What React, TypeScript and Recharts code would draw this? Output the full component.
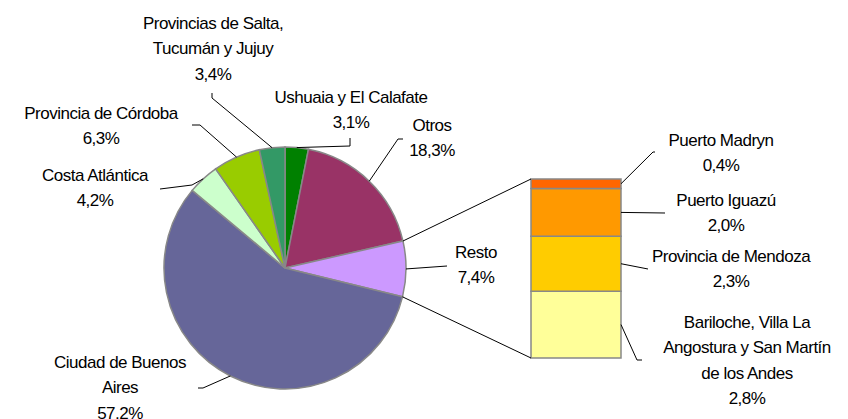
import { PieChart, Pie, Cell, BarChart, Bar, XAxis, YAxis } from 'recharts'

// main pie, clockwise from 12 o'clock
const PIE_NAMES = [
  'Ushuaia y El Calafate',
  'Otros',
  'Resto',
  'Ciudad de Buenos\nAires',
  'Costa Atlántica',
  'Provincia de Córdoba',
  'Provincias de Salta,\nTucumán y Jujuy',
]
const PIE_VALUES = [3.1, 18.3, 7.4, 57.2, 4.2, 6.3, 3.4]
const PIE_COLORS = ['#008000', '#993366', '#CC99FF', '#666699', '#CCFFCC', '#99CC00', '#339966']

// breakdown of "Resto", bottom to top
const BAR_NAMES = [
  'Bariloche, Villa La\nAngostura y San Martín\nde los Andes',
  'Provincia de Mendoza',
  'Puerto Iguazú',
  'Puerto Madryn',
]
const BAR_VALUES = [2.8, 2.3, 2.0, 0.4]
const BAR_COLORS = ['#FFFF99', '#FFCC00', '#FF9900', '#FF6600']

const RESTO = 2
const W = 848
const H = 419
const PIE_CX = 285
const PIE_CY = 268
const PIE_R = 121
const FONT = { fontFamily: '"Liberation Sans", Arial, sans-serif', fontSize: 17, letterSpacing: -0.5 }
const LINE_H = 25.5
const EDGE = '#888888'

// label placement (first line centre + leader elbow/end)
const PIE_LABELS: Record<number, { x: number; y: number; pts: [number, number][] }> = {
  0: { x: 351, y: 97, pts: [[350, 146], [350, 138]] },
  1: { x: 432, y: 125, pts: [[398, 139], [403, 139]] },
  2: { x: 476, y: 252, pts: [[447, 266]] },
  3: { x: 120, y: 362, pts: [[203, 388], [198, 388]] },
  4: { x: 95, y: 175, pts: [[192, 185], [160, 189]] },
  5: { x: 101, y: 113, pts: [[200, 125], [192, 125]] },
  6: { x: 213, y: 23, pts: [[212, 98], [212, 93]] },
}
const BAR_LABELS: Record<number, { x: number; y: number; pts: [number, number][] }> = {
  0: { x: 747, y: 322, pts: [[637, 360], [642, 360]] },
  1: { x: 731, y: 256, pts: [[648, 269]] },
  2: { x: 726, y: 200, pts: [[665, 213]] },
  3: { x: 721, y: 140, pts: [[653, 152], [655, 152]] },
}

const fmt = (v: number) => v.toFixed(1).replace('.', ',') + '%'

function LabelText({ x, y, lines }: { x: number; y: number; lines: string[] }) {
  return (
    <text x={x} y={y} textAnchor="middle" fill="#000" style={FONT}>
      {lines.map((l, i) => (
        <tspan key={i} x={x} y={y + i * LINE_H} dominantBaseline="central">{l}</tspan>
      ))}
    </text>
  )
}

function pieEdge(frac: number) {
  const a = frac * 2 * Math.PI
  return [PIE_CX + PIE_R * Math.sin(a), PIE_CY - PIE_R * Math.cos(a)]
}

const total = PIE_VALUES.reduce((s, v) => s + v, 0)
const restoStart = PIE_VALUES.slice(0, RESTO).reduce((s, v) => s + v, 0) / total
const restoEnd = restoStart + PIE_VALUES[RESTO] / total

const renderPieLabel = (p: any) => {
  const rad = -p.midAngle * Math.PI / 180
  const sx = p.cx + p.outerRadius * Math.cos(rad)
  const sy = p.cy + p.outerRadius * Math.sin(rad)
  const L = PIE_LABELS[p.index]
  const pts = [[sx, sy], ...L.pts].map(q => q.join(',')).join(' ')
  return (
    <g key={p.index}>
      <polyline points={pts} fill="none" stroke="#000" strokeWidth={1} />
      <LabelText x={L.x} y={L.y} lines={[...PIE_NAMES[p.index].split('\n'), fmt(PIE_VALUES[p.index])]} />
    </g>
  )
}

const barLabel = (i: number) => (p: any) => {
  const vb = p.viewBox ?? p
  const x = Number(vb.x), y = Number(vb.y), w = Number(vb.width), h = Number(vb.height)
  const L = BAR_LABELS[i]
  const pts = [[x + w, y + h / 2], ...L.pts].map(q => q.join(',')).join(' ')
  let connector = null
  if (i === BAR_VALUES.length - 1) {
    const [px, py] = pieEdge(restoStart)
    connector = <line x1={px} y1={py} x2={x} y2={y} stroke="#000" strokeWidth={1} />
  } else if (i === 0) {
    const [px, py] = pieEdge(restoEnd)
    connector = <line x1={px} y1={py} x2={x} y2={y + h} stroke="#000" strokeWidth={1} />
  }
  return (
    <g>
      {connector}
      <polyline points={pts} fill="none" stroke="#000" strokeWidth={1} />
      <LabelText x={L.x} y={L.y} lines={[...BAR_NAMES[i].split('\n'), fmt(BAR_VALUES[i])]} />
    </g>
  )
}

export default function App() {
  const pieData = PIE_NAMES.map((name, i) => ({ name, value: PIE_VALUES[i] }))
  const barRow: Record<string, any> = { cat: 'Resto' }
  BAR_VALUES.forEach((v, i) => { barRow['s' + i] = v })

  return (
    <div style={{ position: 'absolute', left: 0, top: 0, width: W, height: H, background: '#fff' }}>
      <div style={{ position: 'absolute', left: 0, top: 0 }}>
        <PieChart width={W} height={H} margin={{ top: 0, right: 0, bottom: 0, left: 0 }}>
          <Pie
            data={pieData}
            dataKey="value"
            nameKey="name"
            cx={PIE_CX}
            cy={PIE_CY}
            outerRadius={PIE_R}
            startAngle={90}
            endAngle={-270}
            stroke={EDGE}
            strokeWidth={1.5}
            label={renderPieLabel}
            labelLine={false}
            isAnimationActive={false}
          >
            {pieData.map((_, i) => <Cell key={i} fill={PIE_COLORS[i]} />)}
          </Pie>
        </PieChart>
      </div>
      <div style={{ position: 'absolute', left: 0, top: 0 }}>
        <BarChart
          width={W}
          height={H}
          data={[barRow]}
          margin={{ top: 179, bottom: H - 358, left: 531, right: W - 621 }}
          barCategoryGap={0}
        >
          <XAxis dataKey="cat" hide />
          <YAxis hide domain={[0, 7.5]} />
          {BAR_VALUES.map((_, i) => (
            <Bar
              key={i}
              dataKey={'s' + i}
              stackId="a"
              fill={BAR_COLORS[i]}
              stroke={EDGE}
              strokeWidth={1.5}
              label={barLabel(i)}
              isAnimationActive={false}
            />
          ))}
        </BarChart>
      </div>
    </div>
  )
}
